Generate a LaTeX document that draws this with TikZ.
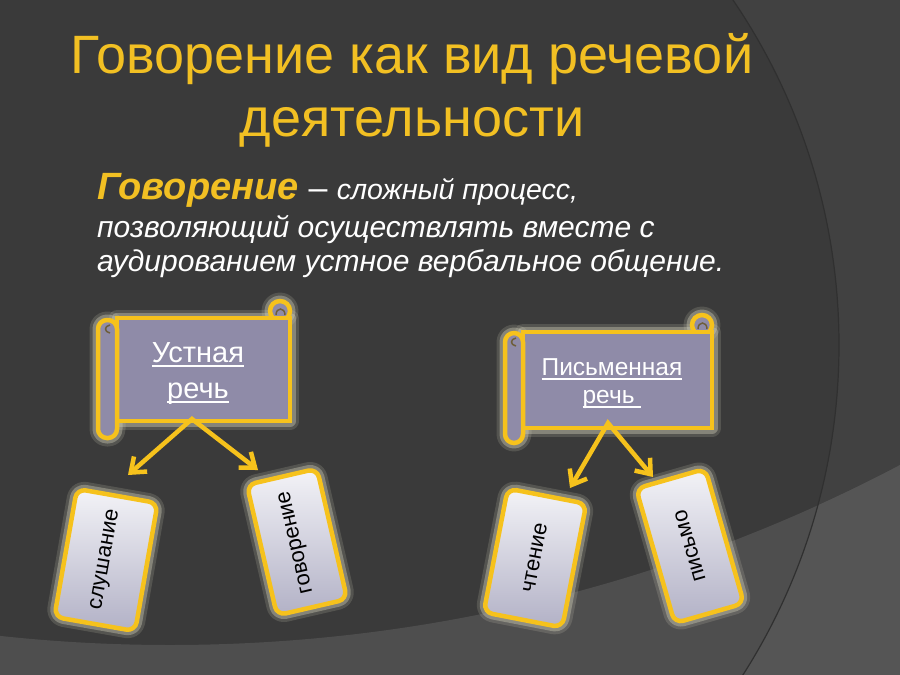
\documentclass[tikz,border=0pt]{standalone}
\usepackage{fontspec}
\setmainfont{Liberation Sans}
\usetikzlibrary{arrows.meta}
\pgfdeclarelayer{bgl}
\pgfdeclarelayer{glowl}
\pgfsetlayers{bgl,glowl,main}
\definecolor{bg}{HTML}{3A3A3A}
\definecolor{bgR}{HTML}{414141}
\definecolor{band}{HTML}{4E4E4E}
\definecolor{bandR}{HTML}{555555}
\definecolor{arcline}{HTML}{303030}
\definecolor{gold}{HTML}{F6C21C}
\definecolor{titlegold}{HTML}{F2C023}
\definecolor{scrollfill}{HTML}{8F8BA8}
\definecolor{glow}{HTML}{CFCDB8}
\definecolor{cardtop}{HTML}{F3F3F7}
\definecolor{cardbot}{HTML}{B2B1C6}
\definecolor{curlmark}{HTML}{6E5E3A}
\newcommand\myul[1]{\setbox0\hbox{#1}\rlap{\rule[-5pt]{\wd0}{1.6pt}}\box0}
\tikzset{
  glowA/.style={draw=glow, line width=17pt, opacity=0.18, line join=round},
  glowB/.style={draw=glow, line width=11pt, opacity=0.4, line join=round},
  scrollpart/.style={fill=scrollfill, draw=gold, line width=4.5pt},
  scrollbody/.style={rectangle, scrollpart, inner sep=0, outer sep=0},
  scrolltxt/.style={text=white, inner sep=0, anchor=base},
  card/.style={rectangle, draw=gold, line width=4.5pt, rounded corners=9pt,
    top color=cardtop, bottom color=cardbot, inner sep=0, outer sep=0,
    font=\fontsize{22}{26}\selectfont, text=black},
  conn/.style={draw=gold, line width=4.5pt, line join=miter,
    {Straight Barb[length=13pt,width=20pt]}-{Straight Barb[length=13pt,width=20pt]}},
  titletxt/.style={font=\fontsize{54}{60}\selectfont, text=titlegold, anchor=base, inner sep=0},
  bodytxt/.style={font=\fontsize{30}{36}\selectfont\itshape, text=white, anchor=base west, inner sep=0},
}
\begin{document}
\begin{tikzpicture}[x=1pt,y=-1pt]
\useasboundingbox (0,0) rectangle (900,675);
% ---------- background ----------
\begin{pgfonlayer}{bgl}
\fill[bg] (0,0) rectangle (900,675);
\begin{scope}
  \clip (0,0) rectangle (900,675);
  \fill[bgR, even odd rule] (-20,-20) rectangle (920,695) (225,345) circle (614);
  \fill[band, even odd rule] (-20,-20) rectangle (920,695) (170,-923) circle (1568);
  \begin{scope}[even odd rule]
    \clip (-20,-20) rectangle (920,695) (170,-923) circle (1568);
    \fill[bandR] (-20,-20) rectangle (920,695) (225,345) circle (614);
  \end{scope}
  \draw[arcline, line width=1.2pt] (225,345) circle (614);
\end{scope}
\end{pgfonlayer}
% ---------- title ----------
\node[titletxt] (title1) at (412,73) {Говорение как вид речевой};
\node[titletxt] (title2) at (412,136) {деятельности};
% ---------- definition ----------
\node[anchor=base west, inner sep=0, text=titlegold,
      font=\fontsize{38}{40}\selectfont\bfseries\itshape] (term) at (97,199) {Говорение};
\node[anchor=base west, inner sep=0, text=white] (def1) at (term.base east)
      {\fontsize{34}{40}\selectfont\ – \itshape\fontsize{28.5}{36}\selectfont сложный процесс,};
\node[bodytxt] (def2) at (97,237) {позволяющий осуществлять вместе с};
\node[bodytxt] (def3) at (97,271) {аудированием устное вербальное общение.};
% ---------- left scroll ----------
\begin{pgfonlayer}{glowl}
  \draw[glowA] (280,311) circle (10);
  \draw[glowB] (280,311) circle (10);
  \draw[glowA] (117,318) rectangle (290,421);
  \draw[glowB] (117,318) rectangle (290,421);
  \draw[glowA, rounded corners=9] (98,320) rectangle (117,438);
  \draw[glowB, rounded corners=9] (98,320) rectangle (117,438);
\end{pgfonlayer}
\draw[scrollpart] (280,311) circle (10);
\node[scrollbody, minimum width=173, minimum height=103] (oral) at (203.5,369.5) {};
\draw[scrollpart, rounded corners=9] (98,320) rectangle (117,438);
\draw[curlmark, line width=1.5pt] (276,315) .. controls (276,307) and (285,307) .. (285,315);
\draw[curlmark, line width=1.5pt] (110,325) .. controls (104,326) and (104,332) .. (110,333);
\node[scrolltxt, font=\fontsize{29}{34}\selectfont] (oralt1) at (198,362) {\myul{Устная}};
\node[scrolltxt, font=\fontsize{29}{34}\selectfont] (oralt2) at (198,398) {\myul{речь}};
% ---------- right scroll ----------
\begin{pgfonlayer}{glowl}
  \draw[glowA] (702,325) circle (10);
  \draw[glowB] (702,325) circle (10);
  \draw[glowA] (523,332) rectangle (712,428);
  \draw[glowB] (523,332) rectangle (712,428);
  \draw[glowA, rounded corners=9] (505,333) rectangle (523,443);
  \draw[glowB, rounded corners=9] (505,333) rectangle (523,443);
\end{pgfonlayer}
\draw[scrollpart] (702,325) circle (10);
\node[scrollbody, minimum width=189, minimum height=96] (written) at (617.5,380) {};
\draw[scrollpart, rounded corners=9] (505,333) rectangle (523,443);
\draw[curlmark, line width=1.5pt] (698,329) .. controls (698,321) and (707,321) .. (707,329);
\draw[curlmark, line width=1.5pt] (516,338) .. controls (510,339) and (510,345) .. (516,346);
\node[scrolltxt, font=\fontsize{24.5}{30}\selectfont] (writt1) at (612,375) {\myul{Письменная}};
\node[scrolltxt, font=\fontsize{24.5}{30}\selectfont] (writt2) at (612,403) {\myul{речь\ }};
% ---------- cards ----------
\node[card, rotate=-10, minimum width=82, minimum height=130] (lis) at (106,560) {\rotatebox{90}{слушание}};
\node[card, rotate=13, minimum width=72, minimum height=134] (gov) at (297,542) {\rotatebox{90}{говорение}};
\node[card, rotate=-11, minimum width=80, minimum height=126] (cht) at (535,558) {\rotatebox{90}{чтение}};
\node[card, rotate=16, minimum width=72, minimum height=140] (pis) at (690,546) {\rotatebox{90}{письмо}};
\begin{pgfonlayer}{glowl}
  \foreach \c in {lis,gov,cht,pis}{
    \draw[glowA, rounded corners=9] (\c.north west) -- (\c.north east) -- (\c.south east) -- (\c.south west) -- cycle;
    \draw[glowB, rounded corners=9] (\c.north west) -- (\c.north east) -- (\c.south east) -- (\c.south west) -- cycle;
  }
\end{pgfonlayer}
% ---------- connectors ----------
\coordinate (apexL) at (192,419);
\coordinate (tipL1) at (128,475);
\coordinate (tipL2) at (258,470);
\coordinate (apexR) at (608,423);
\coordinate (tipR1) at (570,488);
\coordinate (tipR2) at (653,477);
\draw[conn] (tipL1) -- (apexL) -- (tipL2);
\draw[conn] (tipR1) -- (apexR) -- (tipR2);
\end{tikzpicture}
\end{document}
